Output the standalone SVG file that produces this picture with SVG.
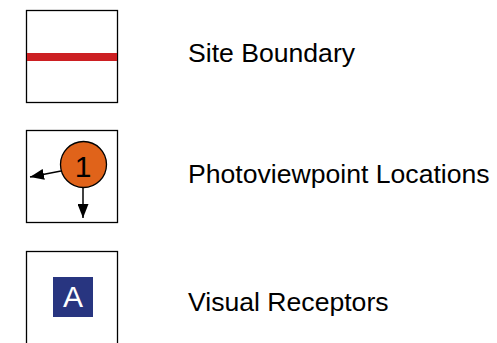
<svg xmlns="http://www.w3.org/2000/svg" width="497" height="343" viewBox="0 0 497 343">
<style>
.box{fill:#fff;stroke:#000;stroke-width:1.3}
.lbl{font-family:"Liberation Sans",Arial,sans-serif;font-size:26.6px;fill:#000}
.arr{stroke:#000;stroke-width:1.5;fill:none}
</style>
<defs>
<marker id="ah" viewBox="0 0 14 11" refX="14" refY="5.5" markerWidth="14" markerHeight="11" markerUnits="userSpaceOnUse" orient="auto">
<path d="M0,0 L14,5.5 L0,11 Z" fill="#000"/>
</marker>
</defs>
<rect width="497" height="343" fill="#fff"/>
<g id="site-boundary">
<rect class="box" x="26.5" y="10.5" width="91" height="92"/>
<rect x="27" y="53" width="90" height="8" fill="#CC1F22"/>
<text class="lbl" x="188" y="62">Site Boundary</text>
</g>
<g id="connectors">
<line class="arr" x1="61" y1="171" x2="30" y2="177" marker-end="url(#ah)"/>
<line class="arr" x1="83" y1="187" x2="83" y2="218" marker-end="url(#ah)"/>
</g>
<g id="photoviewpoint">
<rect class="box" x="26.5" y="130.5" width="91" height="92" style="fill:none"/>
<circle cx="83.5" cy="164.5" r="23" fill="#E0631A" stroke="#000" stroke-width="1.3"/>
<text x="83" y="176.5" text-anchor="middle" font-family="Liberation Sans, Arial, sans-serif" font-size="30" fill="#000">1</text>
<text class="lbl" x="188" y="183">Photoviewpoint Locations</text>
</g>
<g id="visual-receptors">
<rect class="box" x="26.5" y="251.5" width="91" height="100"/>
<rect x="53" y="277" width="40" height="40" fill="#283580"/>
<text x="73" y="307" text-anchor="middle" font-family="Liberation Sans, Arial, sans-serif" font-size="30" fill="#fff">A</text>
<text class="lbl" x="188" y="311">Visual Receptors</text>
</g>
</svg>
